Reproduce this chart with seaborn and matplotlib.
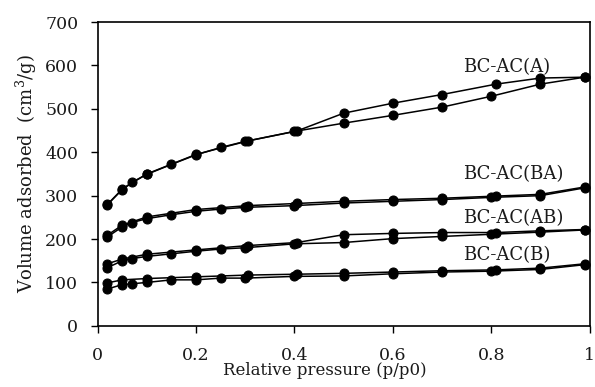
import matplotlib
matplotlib.use("Agg")
import matplotlib.pyplot as plt
import seaborn as sns
import pandas as pd

# Relative pressure points
p_ads = [0.02, 0.05, 0.07, 0.10, 0.15, 0.20, 0.25, 0.30, 0.40, 0.50, 0.60, 0.70, 0.80, 0.90, 0.99]
p_des = [0.99, 0.90, 0.81, 0.70, 0.60, 0.50, 0.405, 0.305, 0.20, 0.10, 0.05, 0.02]

# BC-AC(A)
A_ads = [279, 314, 331, 349, 372, 394, 411, 425, 448, 467, 485, 504, 529, 557, 573]
A_des = [573, 571, 557, 533, 513, 490, 449, 426, 395, 350, 315, 280]
# BC-AC(BA)
BA_ads = [205, 228, 238, 247, 256, 264, 269, 273, 277, 283, 287, 291, 296, 300, 318]
BA_des = [320, 303, 299, 294, 291, 287, 282, 277, 268, 251, 232, 209]
# BC-AC(AB)
AB_ads = [134, 150, 155, 160, 166, 172, 177, 180, 189, 192, 201, 206, 211, 216, 221]
AB_des = [222, 219, 215, 215, 213, 210, 192, 185, 175, 165, 154, 143]
# BC-AC(B)
B_ads = [85, 95, 97, 100, 106, 106, 110, 110, 114, 115, 120, 124, 126, 130, 141]
B_des = [143, 133, 129, 127, 124, 121, 119, 117, 113, 109, 106, 99]

series = {"BC-AC(A)": (A_ads, A_des), "BC-AC(BA)": (BA_ads, BA_des),
          "BC-AC(AB)": (AB_ads, AB_des), "BC-AC(B)": (B_ads, B_des)}
label_pos = {"BC-AC(A)": 597, "BC-AC(BA)": 349, "BC-AC(AB)": 249, "BC-AC(B)": 164}

sns.set_style("ticks")
plt.rcParams['font.family'] = ['DejaVu Serif']
plt.rcParams['mathtext.fontset'] = 'dejavuserif'

fig = plt.figure(figsize=(5.95, 3.87), dpi=100)
ax = fig.add_axes([0.164, 0.158, 0.827, 0.785])

rows = []
for name, (ads, des) in series.items():
    for x, y in zip(p_ads, ads):
        rows.append((name + " ads", x, y))
    for x, y in zip(p_des, des):
        rows.append((name + " des", x, y))
df = pd.DataFrame(rows, columns=["branch", "p", "v"])

for br, sub in df.groupby("branch", sort=False):
    sns.lineplot(data=sub, x="p", y="v", sort=False, estimator=None, ax=ax,
                 color="black", linewidth=1.1, marker="o", markersize=6.5,
                 markeredgecolor="black", markerfacecolor="black")

for name, yv in label_pos.items():
    ax.text(0.742, yv, name, fontsize=13, ha="left", va="center", color="#1a1a1a")

ax.set_xlim(0, 1)
ax.set_ylim(0, 700)
ax.set_xticks([0, 0.2, 0.4, 0.6, 0.8, 1.0])
ax.set_xticklabels(["0", "0.2", "0.4", "0.6", "0.8", "1"])
ax.set_yticks(range(0, 701, 100))
ax.tick_params(labelsize=12.5, direction="out", length=5, width=1, colors="black",
               labelcolor="#1a1a1a", pad=9)
ax.tick_params(axis="x", pad=10)
ax.set_xlabel("Relative pressure (p/p0)", fontsize=12, labelpad=-1, color="#1a1a1a", x=0.462)
ax.set_ylabel("Volume adsorbed  (cm$^3$/g)", fontsize=13, labelpad=4, color="#1a1a1a")
for s in ax.spines.values():
    s.set_visible(True)
    s.set_linewidth(1.2)
    s.set_color("black")

fig.savefig("out.png", dpi=100)
